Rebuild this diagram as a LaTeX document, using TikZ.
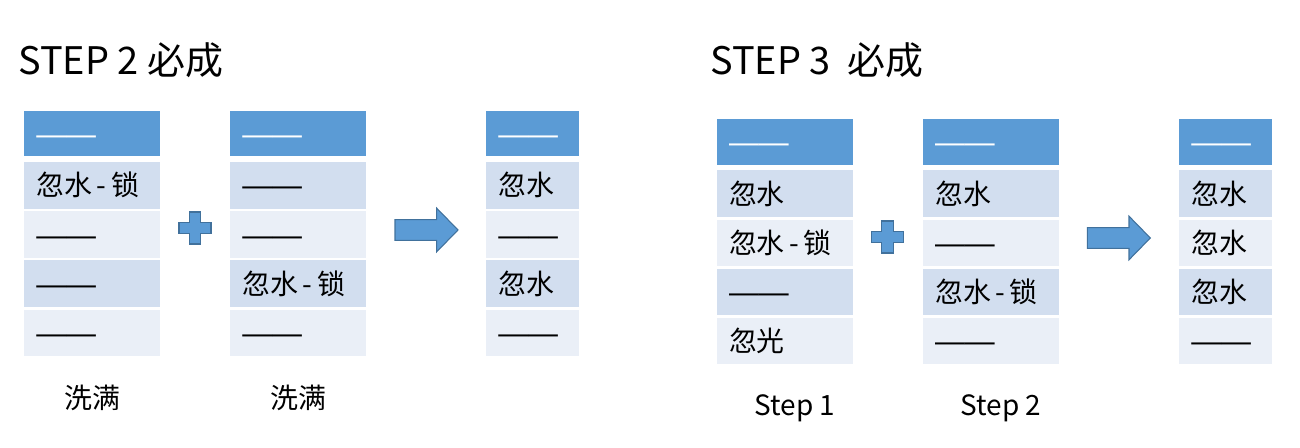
\documentclass[tikz,border=0pt]{standalone}
\usepackage{fontspec}
\setmainfont{Noto Sans CJK SC}
\newfontfamily\dashfont{Liberation Sans}
\newcommand\blank{{\dashfont\fontsize{17}{18}\selectfont ——}}
\usepackage{tikz}
\usetikzlibrary{positioning}
\definecolor{hdrblue}{HTML}{5B9BD5}
\definecolor{rowdark}{HTML}{D2DEEF}
\definecolor{rowlight}{HTML}{EAEFF7}
\definecolor{edgeblue}{HTML}{41719C}
\tikzset{
  cell/.style={inner xsep=0.24cm, inner ysep=0pt, text width=2.24cm, align=left,
               minimum height=0.93cm, text height=14pt, text depth=2pt,
               font=\fontsize{15.9}{18}\selectfont},
  slim/.style={text width=1.38cm},
  hdr/.style={cell, fill=hdrblue, text=white, minimum height=0.906cm},
  dark/.style={cell, fill=rowdark},
  light/.style={cell, fill=rowlight},
  title/.style={anchor=base west, inner sep=0pt, font=\fontsize{21.6}{24}\selectfont},
  caption/.style={inner sep=0pt, text height=14pt, text depth=2pt,
                  font=\fontsize{15.9}{18}\selectfont},
  plusmark/.style={fill=hdrblue, draw=edgeblue, line width=0.6pt},
  bigarrow/.style={fill=hdrblue, draw=edgeblue, line width=0.6pt}
}
\begin{document}
\begin{tikzpicture}[x=0.02cm, y=0.02cm]
  \useasboundingbox (0,0) rectangle (1300,448);
  \node[title] (st2) at (18,373) {STEP 2 必成};
  \node[title] (st3) at (710,373) {STEP 3\ \ 必成};
  % step 2
  \node[hdr, anchor=north west] (a0) at (24,337.3) {\blank};
  \node[dark, below=0.1cm of a0] (a1) {忽水\,-\,锁};
  \foreach \s/\t [count=\i from 2, remember=\i as \j (initially 1)] in {light/\blank, dark/\blank, light/\blank}
    \node[\s, below=0.04cm of a\j] (a\i) {\t};
  \node[hdr, anchor=north west] (b0) at (230,337.3) {\blank};
  \node[dark, below=0.1cm of b0] (b1) {\blank};
  \foreach \s/\t [count=\i from 2, remember=\i as \j (initially 1)] in {light/\blank, dark/忽水\,-\,锁, light/\blank}
    \node[\s, below=0.04cm of b\j] (b\i) {\t};
  \node[hdr, slim, anchor=north west] (c0) at (486,337.3) {\blank};
  \node[dark, slim, below=0.1cm of c0] (c1) {忽水};
  \foreach \s/\t [count=\i from 2, remember=\i as \j (initially 1)] in {light/\blank, dark/忽水, light/\blank}
    \node[\s, slim, below=0.04cm of c\j] (c\i) {\t};
  \node[caption, below=0.54cm of a4] (wa) {洗满};
  \node[caption, below=0.54cm of b4] (wb) {洗满};
  % step 3
  \node[hdr, anchor=north west] (d0) at (716.7,329) {\blank};
  \node[dark, below=0.1cm of d0] (d1) {忽水};
  \foreach \s/\t [count=\i from 2, remember=\i as \j (initially 1)] in {light/忽水\,-\,锁, dark/\blank, light/忽光}
    \node[\s, below=0.04cm of d\j] (d\i) {\t};
  \node[hdr, anchor=north west] (e0) at (922.7,329) {\blank};
  \node[dark, below=0.1cm of e0] (e1) {忽水};
  \foreach \s/\t [count=\i from 2, remember=\i as \j (initially 1)] in {light/\blank, dark/忽水\,-\,锁, light/\blank}
    \node[\s, below=0.04cm of e\j] (e\i) {\t};
  \node[hdr, slim, anchor=north west] (f0) at (1179,329) {\blank};
  \node[dark, slim, below=0.1cm of f0] (f1) {忽水};
  \foreach \s/\t [count=\i from 2, remember=\i as \j (initially 1)] in {light/忽水, dark/忽水, light/\blank}
    \node[\s, slim, below=0.04cm of f\j] (f\i) {\t};
  \node[caption, below=0.52cm of d4, xshift=0.2cm] (sd) {Step 1};
  \node[caption, below=0.52cm of e4, xshift=0.2cm] (se) {Step 2};
  % plus signs and arrows
  \foreach \c in {(195,220),(887.5,211)}
    \draw[plusmark, shift={\c}] (-5.7,16) -- (5.7,16) -- (5.7,5.7) -- (16,5.7) -- (16,-5.7)
      -- (5.7,-5.7) -- (5.7,-16) -- (-5.7,-16) -- (-5.7,-5.7) -- (-16,-5.7) -- (-16,5.7)
      -- (-5.7,5.7) -- cycle;
  \foreach \c in {(395,218),(1087.3,210)}
    \draw[bigarrow, shift={\c}] (0,-10.4) -- (41.7,-10.4) -- (41.7,-21.8) -- (63,0)
      -- (41.7,21.8) -- (41.7,10.4) -- (0,10.4) -- cycle;
\end{tikzpicture}
\end{document}
